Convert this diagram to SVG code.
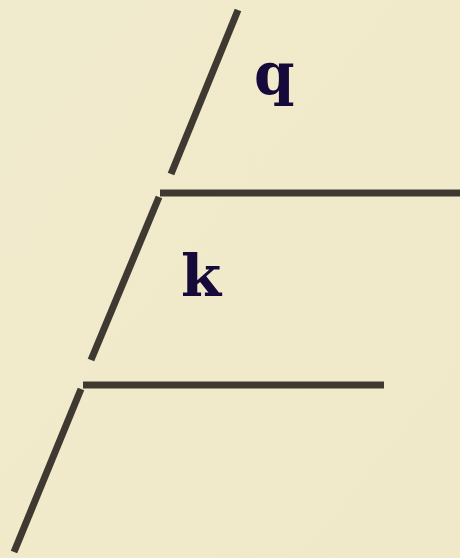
<svg xmlns="http://www.w3.org/2000/svg" width="460" height="558" viewBox="0 0 460 558">
<defs>
<style>
.ln{stroke:#3e3a31;stroke-width:7;fill:none;stroke-linecap:butt}
.lbl{font-family:"DejaVu Serif",serif;font-weight:bold;font-size:58px;fill:#150a3a}
</style>
<linearGradient id="bg" x1="0" y1="0" x2="1" y2="1">
<stop offset="0" stop-color="#f1ebcd"/>
<stop offset="1" stop-color="#f0e9c9"/>
</linearGradient>
</defs>
<rect width="460" height="558" fill="url(#bg)"/>
<g id="connectors">
<line class="ln" x1="238" y1="10" x2="171" y2="174"/>
<line class="ln" x1="160" y1="193" x2="460" y2="193"/>
<line class="ln" x1="159" y1="197" x2="91" y2="360"/>
<line class="ln" x1="83" y1="385" x2="384" y2="385"/>
<line class="ln" x1="81" y1="389" x2="14" y2="552"/>
</g>
<g id="label-q"><text class="lbl" x="254" y="94">q</text></g>
<g id="label-k"><text class="lbl" x="181" y="296">k</text></g>
</svg>
